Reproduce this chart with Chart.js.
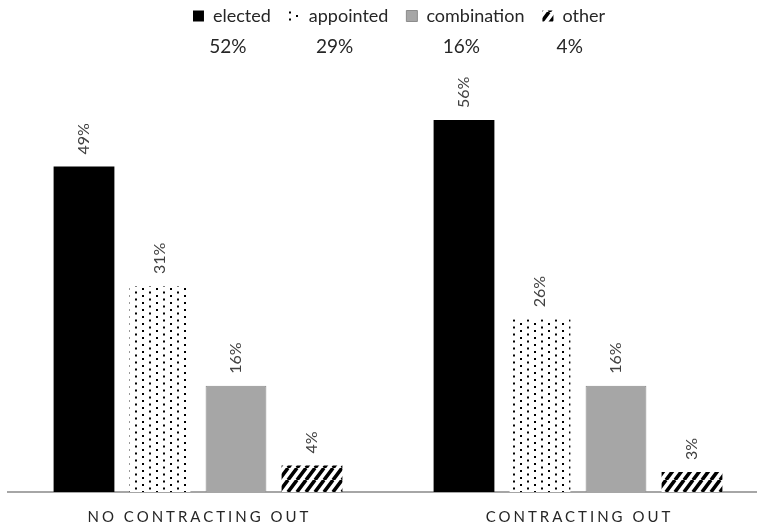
<!DOCTYPE html>
<html>
<head>
<meta charset="utf-8">
<script src="https://cdn.jsdelivr.net/npm/chart.js@4.4.1/dist/chart.umd.min.js"></script>
<style>
  html, body { margin: 0; padding: 0; overflow: hidden; background: #fff; width: 757px; height: 524px; }
  #wrap { width: 790px; height: 524px; }
</style>
</head>
<body>
<div id="wrap"><canvas id="c" width="790" height="524" style="width:790px;height:524px"></canvas></div>
<script>
// Board selection method, by contracting-out status (percent of agencies)
const categories = ['NO CONTRACTING OUT', 'CONTRACTING OUT'];
const seriesNames = ['elected', 'appointed', 'combination', 'other'];
const elected = [49, 56];
const appointed = [31, 26];
const combination = [16, 16];
const other = [4, 3];
// Share of all agencies for each method, printed under the legend
const overallShares = [52, 29, 16, 4];

const FONT = 'Lato, "Liberation Sans", sans-serif';
const canvas = document.getElementById('c');
const mainCtx = canvas.getContext('2d');

// Staggered dot fill: columns ~7px apart, alternate columns shifted half a step
function dotPattern() {
  const t = document.createElement('canvas');
  t.width = 14; t.height = 7;
  const g = t.getContext('2d');
  g.fillStyle = '#fff'; g.fillRect(0, 0, 14, 7);
  g.fillStyle = '#000';
  g.fillRect(2, 1, 2, 2);
  g.fillRect(9, 4.5, 2, 2);
  return mainCtx.createPattern(t, 'repeat');
}

// Thick forward-slash hatching
function hatchPattern() {
  const w = 9, h = 12;
  const t = document.createElement('canvas');
  t.width = w; t.height = h;
  const g = t.getContext('2d');
  g.fillStyle = '#fff'; g.fillRect(0, 0, w, h);
  g.strokeStyle = '#000';
  g.lineWidth = 3.6;
  g.beginPath();
  for (let k = 0; k <= 2; k++) {
    g.moveTo(k * w, 0);
    g.lineTo((k - 1) * w, h);
  }
  g.stroke();
  return mainCtx.createPattern(t, 'repeat');
}

// Rotated value labels above each bar
const valueLabels = {
  id: 'valueLabels',
  afterDatasetsDraw(chart) {
    const ctx = chart.ctx;
    ctx.save();
    ctx.font = '16px ' + FONT;
    ctx.fillStyle = '#404040';
    ctx.textAlign = 'left';
    ctx.textBaseline = 'middle';
    chart.data.datasets.forEach((ds, i) => {
      chart.getDatasetMeta(i).data.forEach((bar, j) => {
        ctx.save();
        ctx.translate(bar.x, bar.y - 12);
        ctx.rotate(-Math.PI / 2);
        ctx.fillText(ds.data[j] + '%', 0, 0);
        ctx.restore();
      });
    });
    ctx.restore();
  }
};

// Letter-spaced category names under the axis
const categoryLabels = {
  id: 'categoryLabels',
  afterDraw(chart) {
    const ctx = chart.ctx;
    const x = chart.scales.x;
    ctx.save();
    ctx.font = '15px ' + FONT;
    ctx.fillStyle = '#262626';
    ctx.textAlign = 'center';
    ctx.textBaseline = 'middle';
    ctx.letterSpacing = '3px';
    chart.data.labels.forEach((lab, i) => {
      ctx.fillText(lab, x.getPixelForValue(i) + 1.5, x.bottom + 25);
    });
    ctx.restore();
  }
};

// Overall shares printed beneath each legend entry
const legendShares = {
  id: 'legendShares',
  afterDraw(chart) {
    const boxes = chart.legend && chart.legend.legendHitBoxes;
    if (!boxes) return;
    const ctx = chart.ctx;
    ctx.save();
    ctx.font = '19px ' + FONT;
    ctx.fillStyle = '#262626';
    ctx.textAlign = 'center';
    ctx.textBaseline = 'middle';
    boxes.forEach((b, i) => {
      ctx.fillText(overallShares[i] + '%', b.left + b.width / 2 - 4, b.top + b.height / 2 + 31);
    });
    ctx.restore();
  }
};

const seriesValues = [elected, appointed, combination, other];
const fills = ['#000000', dotPattern(), '#a6a6a6', hatchPattern()];
const borders = ['#000000', 'rgba(0,0,0,0)', '#8c8c8c', 'rgba(0,0,0,0)'];
const borderWidths = [0, 0, 1, 0];

new Chart(canvas, {
  type: 'bar',
  data: {
    labels: categories,
    datasets: seriesNames.map((name, i) => ({
      label: name,
      data: seriesValues[i],
      backgroundColor: fills[i],
      borderColor: borders[i],
      borderWidth: borderWidths[i],
      barPercentage: 0.8,
      categoryPercentage: 0.8
    }))
  },
  options: {
    responsive: false,
    animation: false,
    layout: { padding: { left: 8, right: 0, top: -11, bottom: 32 } },
    plugins: {
      legend: {
        position: 'top',
        labels: {
          boxWidth: 11,
          boxHeight: 11,
          padding: 18,
          color: '#262626',
          font: { family: FONT, size: 18 }
        }
      },
      tooltip: { enabled: false }
    },
    scales: {
      x: {
        grid: { display: false, drawTicks: false },
        ticks: { display: false },
        border: { display: true, color: '#a6a6a6', width: 2 }
      },
      y: {
        position: 'right',
        min: 0,
        max: 68.8,
        grid: { display: false, drawTicks: false },
        ticks: { display: false },
        border: { display: false },
        afterFit(scale) { scale.width = 22; }
      }
    }
  },
  plugins: [valueLabels, categoryLabels, legendShares]
});
</script>
</body>
</html>
